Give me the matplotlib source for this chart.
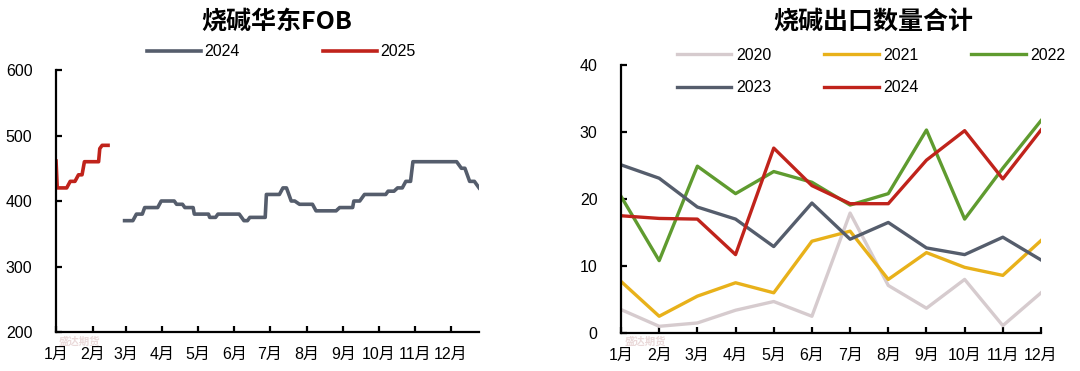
import matplotlib
matplotlib.use("Agg")
import matplotlib.pyplot as plt

plt.rcParams['font.family'] = ['Liberation Sans', 'Noto Sans CJK SC', 'DejaVu Sans']

# ---------------- Left chart data: 烧碱华东FOB ----------------
month_labels = ['1月', '2月', '3月', '4月', '5月', '6月', '7月', '8月', '9月', '10月', '11月', '12月']
month_start_days = [0, 31, 59, 90, 120, 151, 181, 212, 243, 273, 304, 334]

fob2024_days = [58, 65, 68, 73, 75, 86, 89, 100, 102, 107, 109, 116, 117, 129, 130, 135, 137, 155,
                159, 162, 164, 177, 178, 189, 192, 195, 199, 202, 206, 217, 220, 237, 240, 251,
                252, 257, 261, 279, 281, 286, 289, 293, 296, 300, 302, 339, 343, 346, 350, 354, 358]
fob2024_vals = [370, 370, 380, 380, 390, 390, 400, 400, 395, 395, 390, 390, 380, 380, 375, 375, 380, 380,
                370, 370, 375, 375, 410, 410, 420, 420, 400, 400, 395, 395, 385, 385, 390, 390,
                400, 400, 410, 410, 415, 415, 420, 420, 430, 430, 460, 460, 450, 450, 430, 430, 420]

fob2025_days = [0, 1, 9, 12, 16, 19, 22, 24, 36, 37, 39, 44]
fob2025_vals = [461, 420, 420, 430, 430, 440, 440, 460, 460, 480, 485, 485]

# ---------------- Right chart data: 烧碱出口数量合计 ----------------
months = list(range(12))
exp2020 = [3.5, 1.0, 1.5, 3.4, 4.7, 2.5, 17.9, 7.1, 3.7, 8.0, 1.1, 6.0]
exp2021 = [7.7, 2.5, 5.5, 7.5, 6.0, 13.7, 15.2, 8.0, 12.0, 9.8, 8.6, 13.8]
exp2022 = [20.4, 10.8, 24.9, 20.8, 24.1, 22.5, 19.1, 20.8, 30.3, 17.0, 24.6, 31.7]
exp2023 = [25.1, 23.1, 18.8, 17.0, 12.9, 19.4, 14.0, 16.5, 12.7, 11.7, 14.3, 10.9]
exp2024 = [17.5, 17.1, 17.0, 11.7, 27.6, 22.0, 19.3, 19.3, 25.8, 30.2, 23.0, 30.3]

C_GRAY = '#555D6C'
C_RED = '#C0231B'
C_LIGHT = '#D6CBCE'
C_YELLOW = '#E8B11A'
C_GREEN = '#5F9B2F'

fig = plt.figure(figsize=(10.8, 3.71), dpi=100)

def style_axes(ax):
    for s in ['top', 'right']:
        ax.spines[s].set_visible(False)
    for s in ['left', 'bottom']:
        ax.spines[s].set_linewidth(1.6)
        ax.spines[s].set_color('black')
    ax.tick_params(axis='both', direction='in', length=4, width=1.6, labelsize=11.5, colors='black')
    ax.tick_params(axis='y', pad=17)
    ax.tick_params(axis='x', pad=11)

# Left axes
ax1 = fig.add_axes([0.0519, 0.1051, 0.3917, 0.7062])
ax1.plot(fob2024_days, fob2024_vals, color=C_GRAY, lw=2.6, label='2024', solid_joinstyle='round')
ax1.plot(fob2025_days, fob2025_vals, color=C_RED, lw=2.6, label='2025', solid_joinstyle='round')
ax1.set_xlim(0, 358)
ax1.set_ylim(200, 600)
ax1.set_yticks([200, 300, 400, 500, 600])
ax1.set_xticks(month_start_days)
ax1.set_xticklabels(month_labels)
style_axes(ax1)
fig.text(0.2565, 0.9407, '烧碱华东FOB', fontsize=18, fontweight='bold', family=['Noto Sans CJK SC'],
         ha='center', va='center')
ax1.legend(loc='center left', bbox_to_anchor=(0.136, 0.86), bbox_transform=fig.transFigure,
           ncol=2, frameon=False, fontsize=11.5, handlelength=3.4, handletextpad=0.2,
           columnspacing=5.2, borderpad=0, borderaxespad=0)

# Right axes
ax2 = fig.add_axes([0.575, 0.1024, 0.3889, 0.7224])
l20, = ax2.plot(months, exp2020, color=C_LIGHT, lw=2.4, label='2020')
l21, = ax2.plot(months, exp2021, color=C_YELLOW, lw=2.4, label='2021')
l22, = ax2.plot(months, exp2022, color=C_GREEN, lw=2.4, label='2022')
l23, = ax2.plot(months, exp2023, color=C_GRAY, lw=2.4, label='2023')
l24, = ax2.plot(months, exp2024, color=C_RED, lw=2.4, label='2024')
ax2.set_xlim(0, 11)
ax2.set_ylim(0, 40)
ax2.set_yticks([0, 10, 20, 30, 40])
ax2.set_xticks(months)
ax2.set_xticklabels(month_labels)
style_axes(ax2)
fig.text(0.8083, 0.9407, '烧碱出口数量合计', fontsize=18, fontweight='bold', family=['Noto Sans CJK SC'],
         ha='center', va='center')
ax2.legend([l20, l23, l21, l24, l22], ['2020', '2023', '2021', '2024', '2022'],
           loc='center left', bbox_to_anchor=(0.627, 0.807), bbox_transform=fig.transFigure,
           ncol=3, frameon=False, fontsize=11.5, handlelength=3.4, handletextpad=0.3,
           columnspacing=3.3, labelspacing=1.1, borderpad=0, borderaxespad=0)

# faint watermark
for xw in [0.054, 0.578]:
    fig.text(xw, 0.078, '盛达期货', fontsize=7.5, color='#EAD9D9', family=['Noto Sans CJK SC'],
             fontweight='bold', ha='left', va='center', zorder=0)

fig.savefig('out.png', dpi=100)
